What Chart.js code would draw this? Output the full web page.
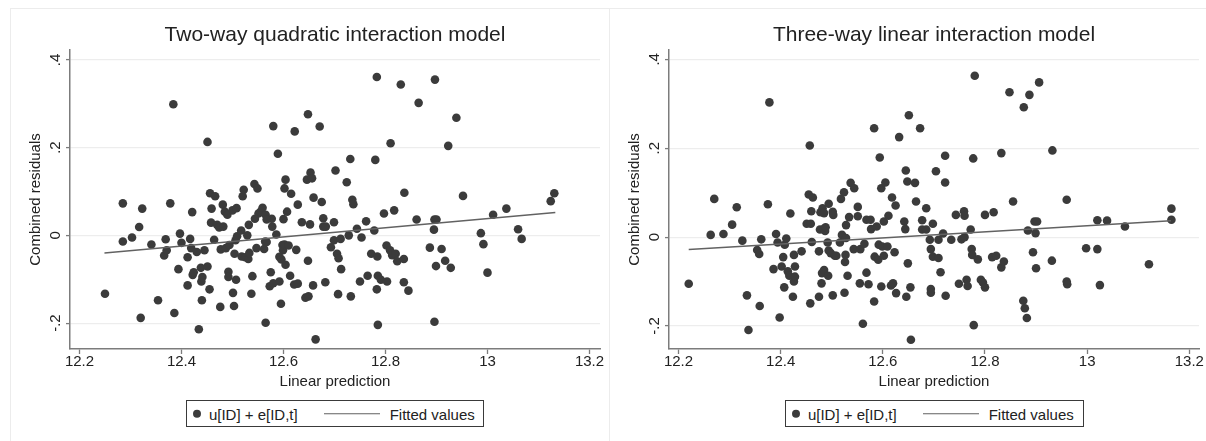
<!DOCTYPE html>
<html>
<head>
<meta charset="utf-8">
<script src="https://cdn.jsdelivr.net/npm/chart.js@4.4.1/dist/chart.umd.min.js"></script>
<style>
  html, body { margin: 0; padding: 0; background: #fff; overflow: hidden; }
  #wrap { position: relative; width: 1206px; height: 441px; background: #fff; overflow: hidden;
          font-family: "Liberation Sans", Arial, sans-serif; color: #222; }
  .frame { position: absolute; border: 1px solid #ececec; box-sizing: border-box; }
  .panel { position: absolute; top: 0; }
  .legend { position: absolute; border: 1px solid #3a3a3a; box-sizing: border-box; background: #fff; }
  .legend span { position: absolute; }
  .legend .txt { font-size: 15px; line-height: 15px; top: 50%; transform: translateY(-50%); white-space: nowrap; color: #222; }
  .legend .dot { border-radius: 50%; top: 50%; transform: translateY(-50%); }
  .legend .ln { top: 50%; transform: translateY(-50%); }
</style>
</head>
<body>
<div id="wrap">
  <div class="frame" style="left:10px;top:8px;width:600px;height:460px"></div>
  <div class="frame" style="left:609px;top:8px;width:640px;height:460px"></div>
  <div class="panel" style="left:0px;"><canvas id="quadChart" width="610" height="441" style="width:610px;height:441px"></canvas></div>
  <div class="panel" style="left:599px;"><canvas id="linChart" width="607" height="441" style="width:607px;height:441px"></canvas></div>
  <div class="legend" id="quadLegend" style="left:186px;top:400px;width:298px;height:27px"></div>
  <div class="legend" id="linLegend" style="left:785px;top:400px;width:299px;height:27px"></div>
</div>
<script>
// Axis ticks shared by both panels
const xTickValues = [12.2, 12.4, 12.6, 12.8, 13, 13.2];
const xTickLabels = ['12.2', '12.4', '12.6', '12.8', '13', '13.2'];
const yTickValues = [-0.2, 0, 0.2, 0.4];
const yTickLabels = ['-.2', '0', '.2', '.4'];

const panelTitles = ['Two-way quadratic interaction model', 'Three-way linear interaction model'];
const seriesNames = ['u[ID] + e[ID,t]', 'Fitted values'];
const xAxisTitle = 'Linear prediction';
const yAxisTitle = 'Combined residuals';

// Two-way quadratic model: linear prediction vs combined residuals
const quadPred = [
  12.250, 12.285, 12.285, 12.303, 12.317, 12.323, 12.320, 12.341, 12.354, 12.366,
  12.369, 12.371, 12.378, 12.384, 12.386, 12.394, 12.397, 12.400, 12.412, 12.412,
  12.417, 12.419, 12.421, 12.422, 12.424, 12.430, 12.434, 12.438, 12.439, 12.441,
  12.440, 12.445, 12.451, 12.451, 12.455, 12.456, 12.458, 12.459, 12.464, 12.466,
  12.470, 12.474, 12.476, 12.477, 12.481, 12.482, 12.485, 12.487, 12.490, 12.492,
  12.492, 12.494, 12.500, 12.501, 12.503, 12.504, 12.506, 12.507, 12.508, 12.509,
  12.517, 12.518, 12.520, 12.522, 12.525, 12.529, 12.531, 12.532, 12.533, 12.537,
  12.539, 12.543, 12.544, 12.547, 12.549, 12.551, 12.555, 12.559, 12.562, 12.564,
  12.565, 12.565, 12.567, 12.573, 12.575, 12.577, 12.578, 12.580, 12.580, 12.586,
  12.589, 12.592, 12.592, 12.595, 12.596, 12.598, 12.599, 12.600, 12.602, 12.602,
  12.604, 12.604, 12.607, 12.610, 12.613, 12.615, 12.621, 12.622, 12.625, 12.628,
  12.628, 12.636, 12.643, 12.646, 12.648, 12.648, 12.649, 12.652, 12.653, 12.656,
  12.658, 12.659, 12.663, 12.671, 12.675, 12.678, 12.678, 12.682, 12.683, 12.693,
  12.699, 12.702, 12.699, 12.705, 12.707, 12.708, 12.712, 12.713, 12.724, 12.728,
  12.731, 12.732, 12.735, 12.737, 12.744, 12.750, 12.753, 12.762, 12.765, 12.772,
  12.778, 12.780, 12.783, 12.783, 12.784, 12.785, 12.785, 12.791, 12.797, 12.802,
  12.803, 12.809, 12.810, 12.813, 12.817, 12.820, 12.823, 12.830, 12.836, 12.837,
  12.836, 12.845, 12.861, 12.865, 12.887, 12.895, 12.896, 12.897, 12.896, 12.899,
  12.900, 12.910, 12.917, 12.923, 12.928, 12.939, 12.952, 12.987, 12.992, 13.000,
  13.011, 13.037, 13.060, 13.067, 13.124, 13.131, 12.567
];
const quadResid = [
  -0.133, -0.014, 0.073, -0.005, 0.019, 0.061, -0.188, -0.021, -0.148, -0.046,
  -0.009, -0.034, 0.073, 0.299, -0.177, -0.077, 0.004, -0.017, -0.050, -0.114,
  -0.008, -0.029, 0.053, -0.090, -0.084, -0.038, -0.214, -0.074, -0.105, -0.095,
  -0.148, -0.034, -0.071, 0.213, -0.123, 0.096, 0.029, 0.061, -0.010, 0.089,
  0.024, 0.018, -0.163, -0.032, 0.070, 0.020, 0.054, -0.029, 0.047, -0.083,
  -0.095, -0.022, 0.057, -0.131, -0.161, -0.042, -0.011, -0.101, 0.062, -0.002,
  0.011, -0.048, 0.089, 0.104, -0.050, 0.000, -0.054, 0.024, -0.040, -0.133,
  -0.093, 0.117, 0.038, -0.029, 0.107, 0.050, 0.054, 0.063, -0.031, -0.014,
  0.047, -0.199, -0.015, -0.116, -0.084, 0.038, 0.020, 0.249, -0.109, 0.002,
  0.186, -0.049, -0.105, -0.156, -0.055, -0.022, -0.034, 0.037, 0.107, -0.021,
  0.127, -0.067, 0.054, -0.023, -0.092, 0.095, -0.112, 0.237, -0.033, 0.070,
  -0.110, 0.030, -0.142, 0.127, 0.276, -0.058, -0.139, 0.025, 0.143, 0.130,
  -0.114, 0.086, -0.237, 0.248, 0.076, 0.039, 0.020, -0.107, 0.020, -0.027,
  0.030, 0.148, -0.011, -0.042, -0.134, -0.052, -0.008, -0.077, 0.121, 0.000,
  0.174, -0.139, 0.081, 0.071, 0.015, -0.105, -0.005, 0.032, -0.092, -0.042,
  0.011, 0.172, 0.361, -0.123, -0.048, -0.092, -0.204, -0.101, 0.050, -0.023,
  -0.105, -0.034, 0.210, -0.045, 0.057, -0.042, -0.059, 0.344, -0.054, 0.097,
  -0.107, -0.126, 0.036, 0.302, -0.028, 0.013, 0.036, 0.355, -0.197, -0.070,
  0.036, -0.031, -0.058, 0.204, -0.074, 0.268, 0.090, 0.005, -0.020, -0.085,
  0.047, 0.061, 0.014, -0.008, 0.078, 0.096, 0.036
];
const quadFitX = [12.249, 13.133];
const quadFitY = [-0.040, 0.052];

// Three-way linear model: linear prediction vs combined residuals
const linPred = [
  12.220, 12.263, 12.270, 12.288, 12.305, 12.314, 12.325, 12.334, 12.337, 12.354,
  12.359, 12.362, 12.358, 12.375, 12.378, 12.386, 12.391, 12.394, 12.398, 12.402,
  12.405, 12.407, 12.408, 12.411, 12.414, 12.417, 12.419, 12.424, 12.426, 12.426,
  12.428, 12.428, 12.441, 12.451, 12.455, 12.457, 12.458, 12.459, 12.460, 12.461,
  12.463, 12.475, 12.475, 12.477, 12.478, 12.480, 12.481, 12.482, 12.484, 12.485,
  12.487, 12.488, 12.492, 12.493, 12.494, 12.494, 12.498, 12.502, 12.502, 12.503,
  12.506, 12.509, 12.516, 12.518, 12.520, 12.524, 12.525, 12.526, 12.527, 12.528,
  12.528, 12.531, 12.534, 12.537, 12.543, 12.544, 12.551, 12.551, 12.555, 12.556,
  12.561, 12.564, 12.568, 12.568, 12.572, 12.576, 12.577, 12.583, 12.583, 12.584,
  12.588, 12.591, 12.592, 12.594, 12.597, 12.597, 12.599, 12.602, 12.602, 12.605,
  12.609, 12.611, 12.616, 12.618, 12.620, 12.623, 12.625, 12.626, 12.632, 12.642,
  12.644, 12.645, 12.646, 12.648, 12.649, 12.651, 12.654, 12.655, 12.663, 12.665,
  12.673, 12.677, 12.677, 12.685, 12.685, 12.692, 12.694, 12.694, 12.694, 12.698,
  12.698, 12.704, 12.709, 12.709, 12.713, 12.718, 12.722, 12.722, 12.723, 12.734,
  12.743, 12.749, 12.754, 12.759, 12.760, 12.764, 12.766, 12.772, 12.774, 12.775,
  12.777, 12.778, 12.780, 12.786, 12.792, 12.796, 12.800, 12.800, 12.814, 12.817,
  12.822, 12.832, 12.832, 12.837, 12.848, 12.855, 12.875, 12.876, 12.878, 12.882,
  12.884, 12.887, 12.894, 12.897, 12.899, 12.900, 12.902, 12.906, 12.931, 12.932,
  12.960, 12.960, 12.961, 12.998, 13.020, 13.020, 13.025, 13.039, 13.074, 13.121,
  13.165, 13.165, 12.485, 12.760
];
const linResid = [
  -0.105, 0.005, 0.086, 0.007, 0.028, 0.067, -0.008, -0.131, -0.209, -0.029,
  -0.155, -0.005, -0.038, 0.074, 0.303, -0.072, 0.007, -0.012, -0.181, -0.066,
  -0.045, -0.113, -0.017, -0.003, -0.077, -0.087, 0.053, -0.134, -0.040, -0.100,
  -0.066, -0.089, -0.032, 0.030, 0.096, 0.206, -0.149, 0.030, 0.058, -0.011,
  0.089, -0.032, -0.134, 0.017, 0.056, -0.104, -0.081, 0.065, 0.018, -0.074,
  0.014, 0.022, -0.012, -0.087, 0.075, -0.030, -0.036, -0.131, 0.057, 0.050,
  -0.042, -0.042, -0.012, 0.086, 0.005, 0.101, -0.125, -0.056, -0.040, 0.027,
  -0.002, -0.087, 0.045, 0.122, -0.027, 0.110, 0.047, 0.068, -0.104, -0.027,
  -0.195, -0.015, -0.080, 0.039, -0.106, 0.039, 0.018, -0.145, 0.245, -0.044,
  0.024, -0.051, -0.017, 0.179, 0.110, -0.111, -0.021, 0.035, -0.042, 0.123,
  -0.021, 0.048, -0.109, 0.089, -0.104, -0.034, 0.071, -0.126, 0.225, 0.035,
  0.018, 0.150, -0.134, 0.125, -0.059, 0.274, -0.113, -0.231, 0.122, 0.080,
  0.245, 0.038, 0.017, 0.017, 0.065, -0.006, -0.027, -0.117, -0.125, 0.030,
  -0.044, 0.148, -0.047, -0.006, -0.079, 0.008, 0.123, 0.183, -0.132, -0.006,
  0.050, -0.105, -0.005, 0.058, 0.048, -0.096, -0.110, 0.017, -0.027, -0.040,
  0.177, -0.198, 0.363, -0.050, -0.096, -0.102, -0.113, 0.050, -0.045, 0.056,
  -0.042, 0.189, -0.068, -0.055, 0.326, 0.080, -0.143, 0.292, -0.160, -0.182,
  0.015, 0.320, -0.034, 0.035, 0.009, -0.070, 0.035, 0.348, -0.053, 0.195,
  0.084, -0.100, -0.106, -0.025, 0.038, -0.027, -0.108, 0.037, 0.024, -0.061,
  0.064, 0.039, 0.054, 0.000
];
const linFitX = [12.220, 13.164];
const linFitY = [-0.028, 0.037];

// Visible axis ranges of each panel
const quadXRange = [12.1814, 13.2206];
const quadYRange = [-0.259, 0.4225];
const linXRange = [12.1814, 13.219];
const linYRange = [-0.2517, 0.4209];

const FONT = '"Liberation Sans", Arial, sans-serif';
const TEXT = '#222222';
const AXIS = '#7c7c7c';
const DOT = '#3b3b3b';
const FIT = '#626262';

function points(xs, ys) {
  return xs.map((x, i) => ({ x: x, y: ys[i] }));
}

function buildChart(canvasId, title, xs, ys, fx, fy, xr, yr, padRight) {
  return new Chart(document.getElementById(canvasId), {
    data: {
      datasets: [
        {
          type: 'scatter',
          label: seriesNames[0],
          data: points(xs, ys),
          backgroundColor: DOT,
          borderWidth: 0,
          pointRadius: 4.3,
          order: 1
        },
        {
          type: 'line',
          label: seriesNames[1],
          data: points(fx, fy),
          borderColor: FIT,
          borderWidth: 1.5,
          pointRadius: 0,
          fill: false,
          order: 0
        }
      ]
    },
    options: {
      responsive: false,
      devicePixelRatio: 1,
      animation: false,
      layout: { padding: { left: 0, right: padRight, top: 0, bottom: 0 }, autoPadding: false },
      plugins: {
        legend: { display: false },
        tooltip: { enabled: false },
        title: {
          display: true,
          text: title,
          fullSize: false,
          color: TEXT,
          font: { family: FONT, size: 21, weight: 'normal' },
          padding: { top: 23, bottom: 1.8 }
        }
      },
      scales: {
        x: {
          type: 'linear',
          position: 'bottom',
          min: xr[0],
          max: xr[1],
          afterBuildTicks: s => { s.ticks = xTickValues.map(v => ({ value: v })); },
          afterFit: s => { s.height = 92; s.paddingLeft = 0; s.paddingRight = 0; },
          ticks: {
            autoSkip: false,
            minRotation: 0,
            maxRotation: 0,
            padding: -1,
            color: TEXT,
            font: { family: FONT, size: 15 },
            callback: v => xTickLabels[xTickValues.indexOf(v)]
          },
          grid: { drawOnChartArea: false, drawTicks: true, tickLength: 5, tickColor: AXIS, tickWidth: 1.3 },
          border: { display: true, color: AXIS, width: 1.5 },
          title: {
            display: true,
            text: xAxisTitle,
            color: TEXT,
            font: { family: FONT, size: 15 },
            padding: { top: 0, bottom: 50 }
          }
        },
        y: {
          type: 'linear',
          position: 'left',
          min: yr[0],
          max: yr[1],
          afterBuildTicks: s => { s.ticks = yTickValues.map(v => ({ value: v })); },
          afterFit: s => { s.width = 70; s.paddingTop = 0; s.paddingBottom = 0; },
          ticks: {
            autoSkip: false,
            minRotation: 90,
            maxRotation: 90,
            crossAlign: 'center',
            padding: 1.6,
            color: TEXT,
            font: { family: FONT, size: 15 },
            callback: v => yTickLabels[yTickValues.indexOf(v)]
          },
          grid: { drawOnChartArea: true, color: '#ededed', lineWidth: 1.2, drawTicks: true, tickLength: 4, tickColor: AXIS, tickWidth: 1.3 },
          border: { display: true, color: AXIS, width: 1.5 },
          title: {
            display: true,
            text: yAxisTitle,
            color: TEXT,
            font: { family: FONT, size: 15 },
            padding: { top: 26.5, bottom: 0 }
          }
        }
      }
    }
  });
}

// Legend built from the chart's own datasets
function buildLegend(chart, boxId) {
  const box = document.getElementById(boxId);
  const ds = chart.data.datasets;
  const dot = document.createElement('span');
  dot.className = 'dot';
  dot.style.cssText = 'left:5.9px;width:8.6px;height:8.6px;background:' + ds[0].backgroundColor;
  const t1 = document.createElement('span');
  t1.className = 'txt';
  t1.style.left = '21.9px';
  t1.textContent = ds[0].label;
  const ln = document.createElement('span');
  ln.className = 'ln';
  ln.style.cssText = 'left:137.2px;width:55.8px;height:1.5px;background:' + ds[1].borderColor;
  const t2 = document.createElement('span');
  t2.className = 'txt';
  t2.style.left = '202.7px';
  t2.textContent = ds[1].label;
  [dot, t1, ln, t2].forEach(el => box.appendChild(el));
}

const quadChart = buildChart('quadChart', panelTitles[0], quadPred, quadResid, quadFitX, quadFitY, quadXRange, quadYRange, 10);
const linChart = buildChart('linChart', panelTitles[1], linPred, linResid, linFitX, linFitY, linXRange, linYRange, 7);
buildLegend(quadChart, 'quadLegend');
buildLegend(linChart, 'linLegend');
</script>
</body>
</html>
